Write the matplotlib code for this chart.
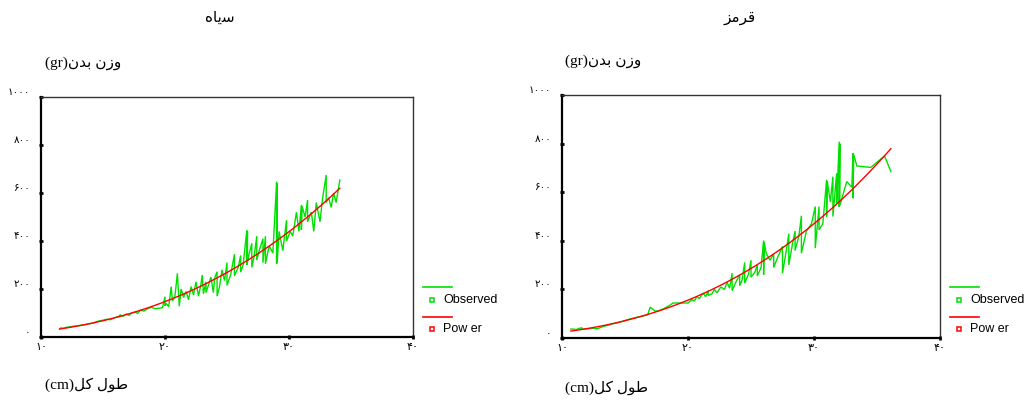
import numpy as np
import matplotlib
matplotlib.use("Agg")
import matplotlib.pyplot as plt
from matplotlib.lines import Line2D

# ---- data: total length (cm) vs body weight (g) ----
# black fish (سیاه)
black_length = [11.5, 11.6, 11.8, 12.0, 12.3, 12.5, 12.8, 13.0, 13.3, 13.6, 14.0, 14.3,
                14.6, 15.0, 15.3, 15.6, 15.9, 16.2, 16.4, 16.6, 16.9, 17.1, 17.3, 17.6,
                17.8, 18.0, 18.3, 18.6, 18.9, 19.2, 19.5, 19.8, 20.0, 20.0, 20.1, 20.3,
                20.5, 20.6, 20.8, 21.0, 21.15, 21.3, 21.5, 21.7, 21.9, 22.1, 22.3, 22.5,
                22.7, 22.9, 23.0, 23.1, 23.3, 23.3, 23.5, 23.7, 23.9, 24.0, 24.2, 24.2,
                24.4, 24.6, 24.8, 25.0, 25.0, 25.3, 25.6, 25.6, 25.9, 26.1, 26.1, 26.3,
                26.6, 26.6, 26.65, 26.65, 26.8, 27.0, 27.0, 27.2, 27.4, 27.4, 27.6, 27.9,
                27.9, 28.1, 28.1, 28.4, 28.7, 29.0, 29.0, 29.05, 29.05, 29.2, 29.5, 29.8,
                29.8, 30.1, 30.3, 30.6, 30.8, 31.0, 31.0, 31.05, 31.3, 31.5, 31.5, 31.8,
                32.0, 32.2, 32.5, 32.7, 33.0, 33.0, 33.2, 33.4, 33.6, 33.8, 34.1]
black_weight = [34, 38, 36, 40, 42, 44, 46, 47, 50, 52, 56, 60,
                66, 70, 74, 72, 80, 84, 92, 86, 96, 90, 100, 104,
                98, 112, 108, 118, 124, 118, 120, 122, 168, 130, 140, 126,
                210, 150, 170, 265, 128, 200, 165, 190, 155, 210, 175, 230,
                170, 220, 258, 180, 230, 185, 215, 250, 185, 245, 272, 170,
                210, 280, 235, 310, 215, 260, 345, 255, 290, 340, 270, 300,
                446, 300, 440, 310, 350, 390, 290, 340, 420, 320, 360, 410,
                310, 420, 305, 380, 350, 647, 305, 640, 310, 440, 360, 487,
                400, 440, 420, 520, 440, 550, 446, 545, 500, 571, 480, 520,
                440, 560, 480, 575, 675, 560, 580, 540, 600, 560, 654]

# red fish (قرمز)
red_length = [10.7, 11.0, 11.0, 11.3, 11.6, 11.6, 12.0, 12.5, 12.8, 13.2, 13.6, 14.0,
              14.5, 15.0, 15.5, 16.0, 16.5, 16.8, 17.0, 17.4, 17.8, 18.2, 18.6, 18.8,
              19.4, 20.0, 20.3, 20.5, 20.7, 20.9, 21.2, 21.4, 21.6, 21.6, 21.9, 22.1,
              22.3, 22.6, 22.9, 23.1, 23.3, 23.5, 23.5, 23.8, 24.1, 24.1, 24.3, 24.5,
              24.5, 24.8, 25.0, 25.0, 25.3, 25.5, 25.5, 25.8, 26.0, 26.0, 26.05, 26.2,
              26.5, 26.8, 26.8, 27.1, 27.5, 27.5, 27.8, 28.0, 28.0, 28.3, 28.5, 28.5,
              28.8, 29.0, 29.0, 29.4, 29.8, 30.1, 30.1, 30.4, 30.4, 30.7, 31.0, 31.0,
              31.05, 31.3, 31.5, 31.5, 31.8, 31.8, 32.0, 32.0, 32.05, 32.05, 32.6, 33.0,
              33.1, 33.1, 33.15, 33.4, 34.5, 35.6, 36.1]
red_weight = [37, 36, 30, 39, 42, 36, 38, 40, 38, 46, 52, 58,
              64, 72, 80, 86, 92, 96, 127, 110, 114, 124, 136, 144,
              144, 144, 158, 152, 170, 162, 185, 170, 195, 175, 182, 200,
              186, 210, 200, 230, 205, 267, 195, 230, 260, 215, 240, 311,
              226, 262, 320, 250, 270, 300, 255, 290, 401, 260, 395, 350,
              320, 345, 290, 330, 377, 267, 360, 429, 301, 390, 440, 360,
              420, 503, 349, 440, 470, 541, 370, 541, 445, 470, 651, 500,
              645, 560, 664, 500, 678, 555, 808, 540, 800, 545, 644, 620,
              760, 575, 755, 708, 702, 749, 685]

y_ticks = [0, 200, 400, 600, 800, 1000]
x_ticks = [10, 20, 30, 40]

# matplotlib has no bidi / shaping, so Arabic-script strings are written
# with presentation forms in left-to-right display order.
title_black = "\uFEE9\uFE8E\uFBFE\uFEB3"            # سیاه
title_red = "\uFEB0\uFEE3\uFEAE\uFED7"              # قرمز
ylabel_text = "(gr)\uFEE5\uFEAA\uFE91 \uFEE5\uFEAF\uFEED"   # وزن بدن(gr)
xlabel_text = "(cm)\uFEDE\uFB90 \uFEDD\uFEEE\uFEC3"         # طول کل(cm)

PERSIAN = str.maketrans("0123456789", "\u06F0\u06F1\u06F2\u06F3\u06F4\u06F5\u06F6\u06F7\u06F8\u06F9")


def fa(n):
    return str(n).translate(PERSIAN)


W, H = 1026, 403
fig = plt.figure(figsize=(W / 100, H / 100), dpi=100)
fig.patch.set_facecolor("white")

GREEN = "#00e000"
RED = "#ff0000"
ARABIC_FONT = ["Liberation Serif", "DejaVu Sans"]


def fx(px):
    return px / W


def fy(py):
    return 1 - py / H


def panel(box, length, weight, title, title_x, lab_x, ylab_y, xlab_y, leg_x):
    x0, y0, x1, y1 = box
    ax = fig.add_axes([fx(x0), fy(y1), fx(x1) - fx(x0), fy(y0) - fy(y1)])
    L = np.asarray(length, float)
    Wt = np.asarray(weight, float)
    order = np.argsort(L, kind="stable")
    ax.plot(L[order], Wt[order], color=GREEN, lw=1.0, solid_joinstyle="miter")

    # power curve W = a * L^b fitted in log-log space
    b, ln_a = np.polyfit(np.log(L), np.log(Wt), 1)
    xs = np.unique(L)
    ax.plot(xs, np.exp(ln_a) * xs ** b, color=RED, lw=1.0)

    ax.set_xlim(10, 40)
    ax.set_ylim(0, 1000)
    ax.set_xticks(x_ticks)
    ax.set_xticklabels([fa(v) for v in x_ticks], fontsize=8, family="DejaVu Sans")
    ax.set_yticks(y_ticks)
    ax.set_yticklabels([fa(v) for v in y_ticks], fontsize=7.5, family="DejaVu Sans", va="bottom")
    ax.tick_params(axis="both", direction="inout", length=3, width=2, color="black")
    ax.tick_params(axis="y", pad=6)
    ax.tick_params(axis="x", pad=2)
    for s in ("left", "bottom"):
        ax.spines[s].set_linewidth(1.6)
    for s in ("top", "right"):
        ax.spines[s].set_linewidth(1.0)
        ax.spines[s].set_color("#333333")

    fig.text(fx(title_x), fy(18), title, ha="center", va="center", fontsize=11,
             family=ARABIC_FONT)
    fig.text(fx(lab_x), fy(ylab_y), ylabel_text, ha="left", va="center", fontsize=11,
             family=ARABIC_FONT)
    fig.text(fx(lab_x), fy(xlab_y), xlabel_text, ha="left", va="center", fontsize=11,
             family=ARABIC_FONT)

    # legend: line sample above, square marker + label below
    for (ly, my, col, lab) in ((287, 300, GREEN, "Observed"), (317, 329, RED, "Pow er")):
        fig.add_artist(Line2D([fx(leg_x), fx(leg_x + 29)], [fy(ly), fy(ly)], color=col, lw=1.2))
        fig.add_artist(Line2D([fx(leg_x + 9)], [fy(my)], marker="s", markersize=3.5,
                              markerfacecolor="white", markeredgecolor=col, mew=1.1,
                              linestyle="none"))
        fig.text(fx(leg_x + 20), fy(my), lab, ha="left", va="center", fontsize=9,
                 family="Liberation Sans")
    return ax


panel((41, 97, 413, 337), black_length, black_weight, title_black, 220, 45, 63, 385, 423)
panel((562, 95, 940, 338), red_length, red_weight, title_red, 740, 565, 61, 388, 950)

fig.savefig("out.png", dpi=100, facecolor="white")
